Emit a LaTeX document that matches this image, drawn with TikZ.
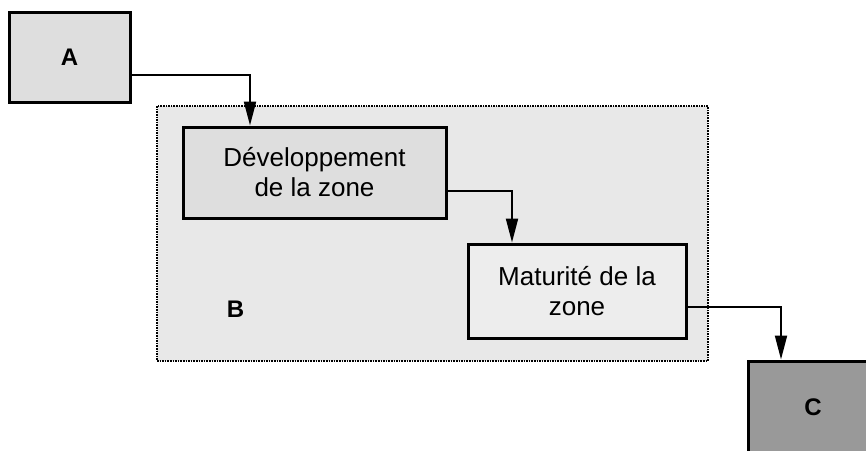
\documentclass[tikz,border=0pt]{standalone}
\usepackage{fontspec}
\setmainfont{Liberation Sans}[BoldFont={Liberation Sans Bold}]
\usetikzlibrary{arrows.meta,positioning}

\begin{document}
\begin{tikzpicture}[node distance=2cm,on grid,
    box/.style={draw,line width=3pt,align=center,inner sep=0pt,
      font=\fontsize{26}{30}\selectfont},
    tag/.style={font=\bfseries\fontsize{24}{27}\selectfont},
    flow/.style={line width=2pt,-{Triangle[length=24pt,width=12pt]}}]
   \clip (0pt,0pt) rectangle (866pt,-450pt);
   \node[box,tag,fill=black!13,minimum width=121pt,minimum height=90pt] (a) at (69.5pt,-57pt) {A};
   \node[draw,line width=2.2pt,dash pattern=on 1.6pt off 1pt,fill=black!9,
         minimum width=551pt,minimum height=255pt] (b) [below right=176.5pt and 363pt of a] {};
   \node[tag] (blabel) [above right=41pt and 67.5pt of b.south west] {B};
   \node[box,fill=black!13,minimum width=263pt,minimum height=91pt] (dev) [below right=115.5pt and 245pt of a] {Développement\\de la zone};
   \node[box,fill=black!7,minimum width=218pt,minimum height=94pt] (mat) [below right=118.5pt and 262.5pt of dev] {Maturité de la\\zone};
   \node[box,tag,fill=black!40,minimum width=130pt,minimum height=92pt] (c) [below right=116pt and 236pt of mat] {C};
    \draw[flow] ([yshift=-18pt]a.east) -| ([xshift=-64.5pt]dev.north);
    \draw[flow] ([yshift=-18.5pt]dev.east) -| ([xshift=-65pt]mat.north);
    \draw[flow] ([yshift=-16pt]mat.east) -| ([xshift=-32pt]c.north);
\end{tikzpicture}
\end{document}
